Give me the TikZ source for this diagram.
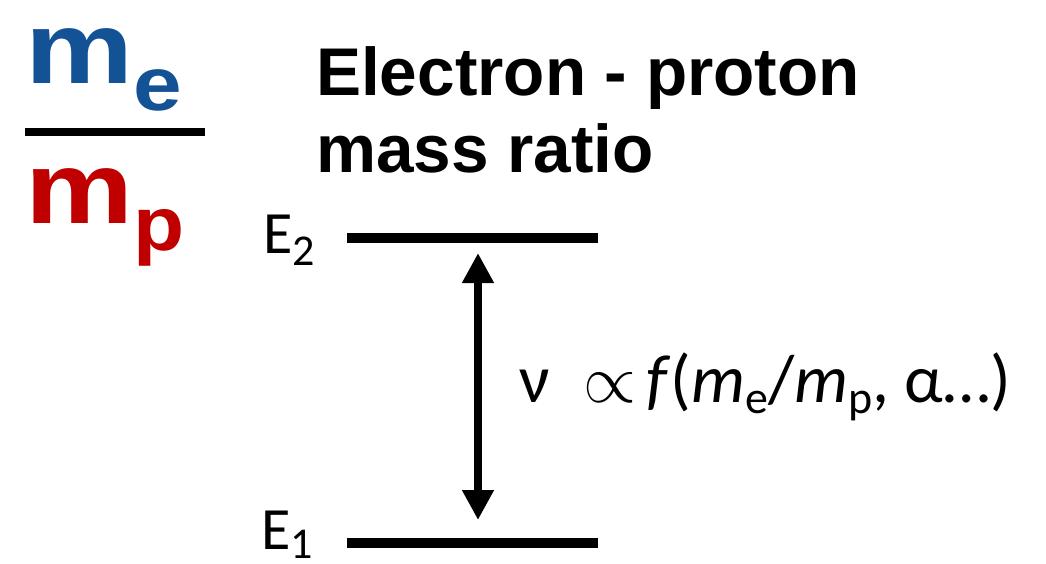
\RequirePackage{fix-cm}
\documentclass[tikz,border=0pt]{standalone}
\usepackage{fontspec}
\setmainfont{Carlito}
\newfontfamily\headfont{Liberation Sans}
\usepackage{graphicx}
\usetikzlibrary{arrows.meta, positioning}
\definecolor{massblue}{RGB}{20, 82, 150}
\definecolor{massred}{RGB}{192, 0, 0}
\tikzset{
  txt/.style={inner sep=0pt, anchor=base west},
  level/.style={line width=10pt},
  fracbar/.style={line width=8pt},
  arrow/.style={{Triangle[length=30pt,width=30pt]}-{Triangle[length=30pt,width=30pt]}, line width=8pt},
}

\begin{document}
\begin{tikzpicture}[x=1pt, y=-1pt]
  \useasboundingbox (0,0) rectangle (1046,563);

  % Mass ratio
  \node[txt, text=massblue] (me) at (25,83)
    {\headfont\bfseries\fontsize{102}{102}\selectfont\scalebox{1.19}[1]{m}\fontsize{76}{76}\selectfont\raisebox{-27pt}{\scalebox{1.15}[1]{e}}};
  \node[txt, text=massred]  (mp) at (25,223)
    {\headfont\bfseries\fontsize{102}{102}\selectfont\scalebox{1.19}[1]{m}\fontsize{76}{76}\selectfont\raisebox{-27pt}{\scalebox{1.1}[1]{p}}};
  \draw[fracbar] (25,132) -- (205,132);

  % Title
  \node[txt] (title)  at (316,95)  {\headfont\bfseries\fontsize{67.5}{80}\selectfont Electron - proton};
  \node[txt] (title2) at (316,172) {\headfont\bfseries\fontsize{67.5}{80}\selectfont mass ratio};

  % Levels
  \coordinate (e2l) at (347,238);
  \coordinate (e2r) at (598,238);
  \coordinate (e1l) at (347,543);
  \coordinate (e1r) at (598,543);
  \draw[level] (e2l) -- (e2r);
  \draw[level] (e1l) -- (e1r);
  \node[txt] (e2lab) at (263,253) {\fontsize{60}{60}\selectfont E\raisebox{-12pt}{\fontsize{44}{44}\selectfont 2}};
  \node[txt, text depth=9pt] (e1lab) at (261,549) {\fontsize{60}{60}\selectfont E\raisebox{-9pt}{\fontsize{44}{44}\selectfont 1}};

  % Transition
  \coordinate (top) at (478,238);
  \coordinate (bot) at (478,543);
  \draw[arrow, shorten <=15pt, shorten >=23pt] (top) -- (bot);
  \node[txt] (freq) at (519,402)
    {\fontsize{68}{68}\selectfont ν\hspace{34pt}$\propto$\hspace{10pt}\textit{f}(\textit{m}\raisebox{-11pt}{\fontsize{46}{46}\selectfont e}/\textit{m}\raisebox{-11pt}{\fontsize{46}{46}\selectfont p}, α…)};

\end{tikzpicture}
\end{document}
